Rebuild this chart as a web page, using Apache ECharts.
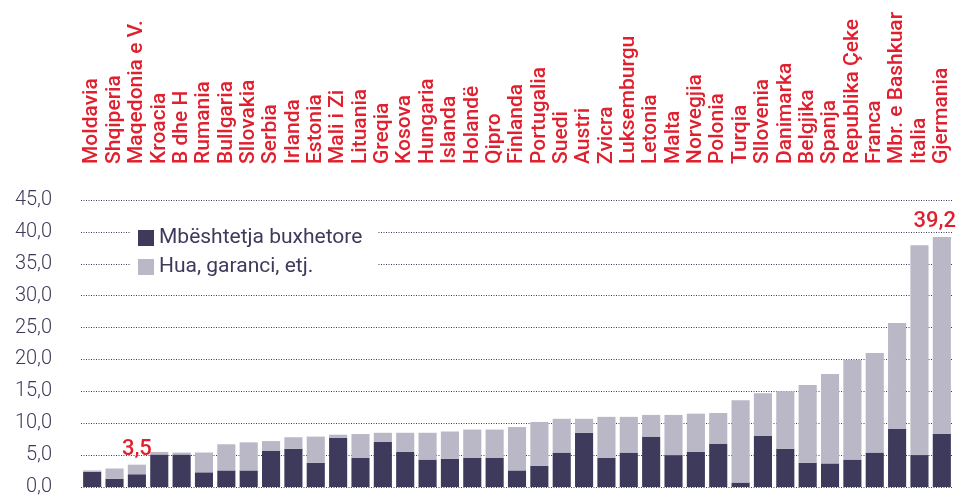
<!DOCTYPE html>
<html>
<head>
<meta charset="utf-8">
<script src="https://cdn.jsdelivr.net/npm/echarts@6/dist/echarts.min.js"></script>
<style>
  html, body { margin: 0; padding: 0; background: #fff; }
  #main { width: 963px; height: 497px; }
</style>
</head>
<body>
<div id="main"></div>
<script>
// vendet, renditur sipas totalit
const countries = [
  'Moldavia', 'Shqiperia', 'Maqedonia e V.', 'Kroacia', 'B dhe H', 'Rumania', 'Bullgaria',
  'Sllovakia', 'Serbia', 'Irlanda', 'Estonia', 'Mali i Zi', 'Lituania', 'Greqia', 'Kosova',
  'Hungaria', 'Islanda', 'Holandë', 'Qipro', 'Finlanda', 'Portugalia', 'Suedi', 'Austri',
  'Zvicra', 'Luksemburgu', 'Letonia', 'Malta', 'Norvegjia', 'Polonia', 'Turqia', 'Sllovenia',
  'Danimarka', 'Belgjika', 'Spanja', 'Republika Çeke', 'Franca', 'Mbr. e Bashkuar', 'Italia',
  'Gjermania'
];
// Mbështetja buxhetore
const budget = [
  2.4, 1.3, 2.0, 5.1, 5.1, 2.3, 2.6, 2.6, 5.7, 6.0, 3.8, 7.7, 4.6, 7.1, 5.5, 4.3, 4.4, 4.6, 4.6,
  2.6, 3.3, 5.4, 8.5, 4.6, 5.4, 7.9, 5.0, 5.5, 6.8, 0.7, 8.0, 6.0, 3.8, 3.7, 4.3, 5.4, 9.1, 5.0,
  8.3
];
// Hua, garanci, etj.
const loans = [
  0.2, 1.6, 1.5, 0.4, 0.3, 3.1, 4.1, 4.4, 1.5, 1.8, 4.1, 0.5, 3.7, 1.4, 3.0, 4.2, 4.3, 4.4, 4.4,
  6.8, 6.9, 5.3, 2.2, 6.4, 5.6, 3.4, 6.3, 6.0, 4.8, 12.9, 6.7, 9.0, 12.2, 14.0, 15.6, 15.6, 16.6,
  32.9, 30.9
];
const yTicks = [0, 5, 10, 15, 20, 25, 30, 35, 40, 45];
const labelled = ['Maqedonia e V.', 'Gjermania'];

const DARK = '#3d3a5c';
const LIGHT = '#bab7c6';
const RED = '#e0202e';

const fmt = v => v.toFixed(1).replace('.', ',');

const chart = echarts.init(document.getElementById('main'));

chart.setOption({
  animation: false,
  textStyle: { fontFamily: 'Roboto' },
  grid: { left: 81, right: 10, top: 200, bottom: 9 },
  legend: {
    orient: 'vertical',
    left: 130,
    top: 222,
    icon: 'rect',
    itemWidth: 16,
    itemHeight: 16,
    itemGap: 5,
    backgroundColor: '#fff',
    padding: [4, 15, 4, 8],
    textStyle: { color: DARK, fontSize: 21, lineHeight: 24 },
    data: ['Mbështetja buxhetore', 'Hua, garanci, etj.']
  },
  xAxis: {
    type: 'category',
    position: 'top',
    data: countries,
    axisLine: { show: false },
    axisTick: { show: false },
    axisLabel: {
      interval: 0,
      rotate: 90,
      margin: 36,
      color: RED,
      fontSize: 21,
      fontWeight: 500
    }
  },
  yAxis: {
    type: 'value',
    min: yTicks[0],
    max: yTicks[yTicks.length - 1],
    interval: 5,
    axisLine: { show: false },
    axisTick: { show: false },
    axisLabel: {
      margin: 29,
      color: DARK,
      fontSize: 20,
      fontWeight: 300,
      formatter: v => fmt(v)
    },
    splitLine: {
      lineStyle: { color: '#3d3a5c', type: [1, 1.5], width: 1 }
    }
  },
  series: [
    {
      name: 'Mbështetja buxhetore',
      type: 'bar',
      stack: 'total',
      barCategoryGap: '19%',
      itemStyle: { color: DARK },
      data: budget
    },
    {
      name: 'Hua, garanci, etj.',
      type: 'bar',
      stack: 'total',
      barCategoryGap: '19%',
      itemStyle: { color: LIGHT },
      data: loans.map((v, i) => ({
        value: v,
        label: {
          show: labelled.includes(countries[i]),
          position: 'top',
          distance: 4,
          offset: countries[i] === 'Gjermania' ? [-7, 0] : [0, 0],
          color: RED,
          fontSize: 22,
          fontWeight: 500,
          formatter: () => fmt(budget[i] + v)
        }
      }))
    }
  ]
});
</script>
</body>
</html>
